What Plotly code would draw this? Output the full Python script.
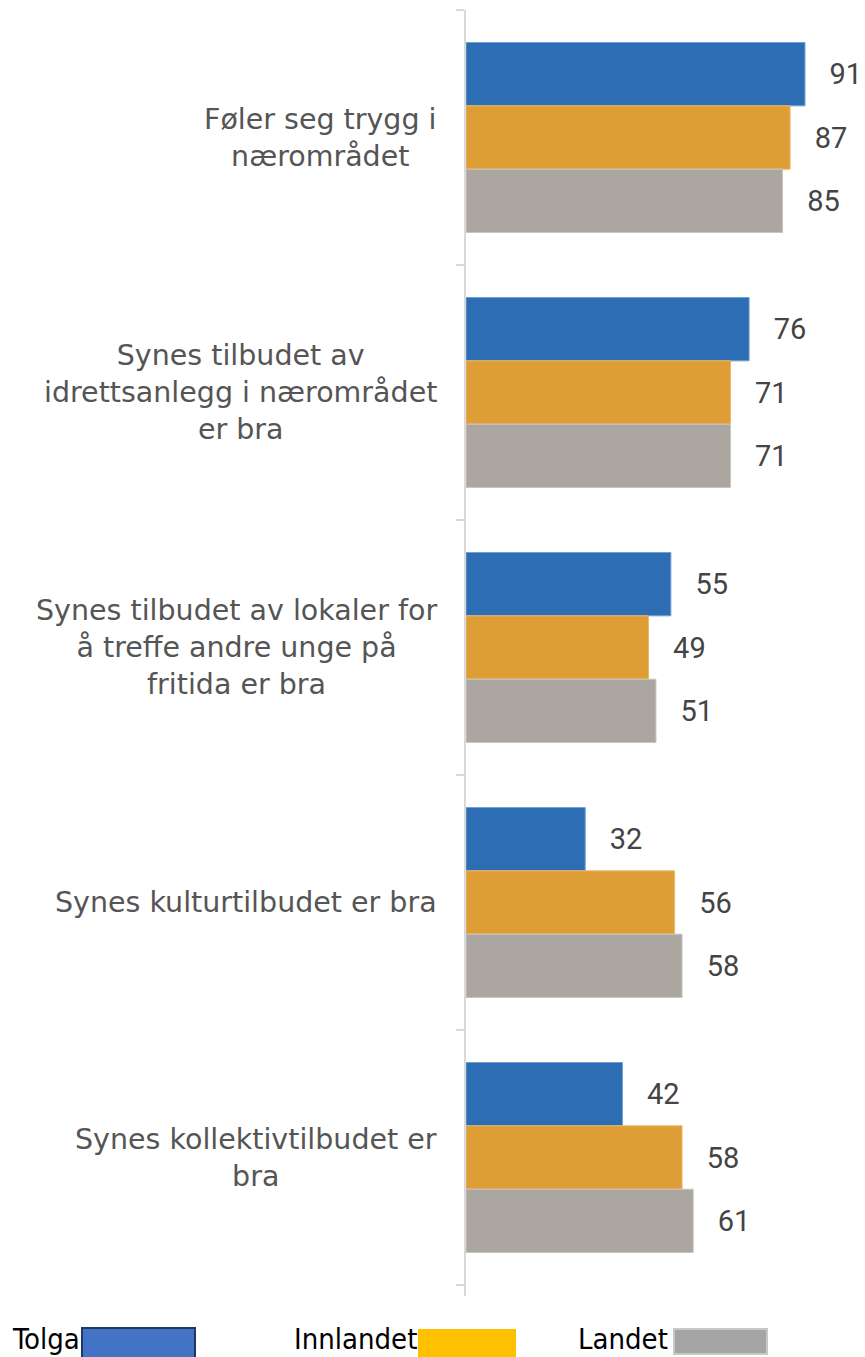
import plotly.graph_objects as go

categories = [
    "Føler seg trygg i<br>nærområdet",
    "Synes tilbudet av<br>idrettsanlegg i nærområdet<br>er bra",
    "Synes tilbudet av lokaler for<br>å treffe andre unge på<br>fritida er bra",
    "Synes kulturtilbudet er bra",
    "Synes kollektivtilbudet er<br>bra",
]
series_names = ["Tolga", "Innlandet", "Landet"]
tolga = [91, 76, 55, 32, 42]
innlandet = [87, 71, 49, 56, 58]
landet = [85, 71, 51, 58, 61]
colors = ["#2C6DB3", "#DE9D35", "#ABA7A0"]
edge_colors = ["#6E9FD6", "#EBB868", "#C9C6C1"]
legend_colors = ["#4472C4", "#FFC000", "#A5A5A5"]

OFF = 8  # page offset of the figure
PAGE_W, PAGE_H = 865, 1357
W, H = PAGE_W - OFF, PAGE_H - OFF
ML, MR, MT, MB = 466 - OFF, 0, 10 - OFF, PAGE_H - 1296
PW = W - ML - MR
PH = H - MT - MB

ypos = list(range(len(categories)))

fig = go.Figure()
for name, vals, col, ec in zip(series_names, [tolga, innlandet, landet], colors, edge_colors):
    fig.add_trace(go.Bar(
        y=ypos, x=vals, orientation="h", name=name,
        marker=dict(color=col, line=dict(color=ec, width=1)),
        text=vals, texttemplate="\u00a0\u00a0\u00a0%{x}", textposition="outside",
        textfont=dict(family="Roboto, Arial, sans-serif", size=29, color="#444444"),
        cliponaxis=False,
    ))

for i, c in enumerate(categories):
    fig.add_annotation(
        x=0, xref="paper", y=i, yref="y", text=c, showarrow=False,
        xanchor="right", yanchor="middle", align="center", xshift=-27,
        font=dict(family="DejaVu Sans, Verdana, sans-serif", size=28.5, color="#555555"),
    )

def px_x(p):
    return (p - OFF - ML) / PW

def px_y(p):
    return 1 - (p - OFF - MT) / PH

legend_font = dict(family="Liberation Sans Narrow, DejaVu Sans Condensed, Arial Narrow, Liberation Sans, sans-serif",
                   size=29, color="#000000")
legend_items = [
    ("Tolga", 10, 82, 195, 1328, 1360, legend_colors[0], "#1F3864"),
    ("Innlandet", 292, 419, 515, 1330, 1360, legend_colors[1], legend_colors[1]),
    ("Landet", 576, 674, 767, 1329, 1354, legend_colors[2], "#C8C8C8"),
]
for label, tx, bx0, bx1, by0, by1, fc, lc in legend_items:
    fig.add_annotation(
        x=px_x(tx), xref="paper", y=px_y(1357), yref="paper", text=label, showarrow=False,
        xanchor="left", yanchor="bottom", font=legend_font, yshift=-1,
    )
    fig.add_shape(
        type="rect", xref="paper", yref="paper",
        x0=px_x(bx0), x1=px_x(bx1), y0=px_y(by1), y1=px_y(by0),
        fillcolor=fc, line=dict(color=lc, width=2),
    )

fig.update_layout(
    width=W, height=H,
    margin=dict(l=ML, r=MR, t=MT, b=MB),
    barmode="group", bargap=0.255, bargroupgap=0,
    plot_bgcolor="white", paper_bgcolor="white",
    showlegend=False,
    xaxis=dict(range=[0, PW / 3.725], visible=False),
    yaxis=dict(
        range=[4.5 + 11 / 255, -0.5],
        tickvals=[-0.5, 0.5, 1.5, 2.5, 3.5, 4.5],
        ticktext=[""] * 6,
        ticks="outside", ticklen=8, tickcolor="#D9D9D9", tickwidth=2,
        showline=True, linecolor="#D9D9D9", linewidth=2,
        showgrid=False, zeroline=False,
    ),
)

fig.write_html("out.html")
